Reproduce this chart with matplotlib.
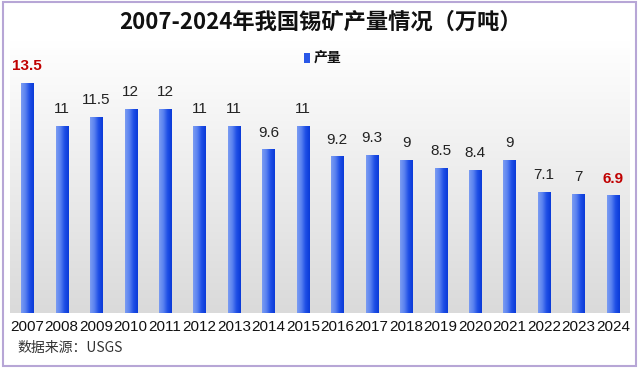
import numpy as np
import matplotlib
matplotlib.use("Agg")
import matplotlib.pyplot as plt
from matplotlib.patches import Rectangle
from matplotlib import font_manager

years = ["2007", "2008", "2009", "2010", "2011", "2012", "2013", "2014", "2015",
         "2016", "2017", "2018", "2019", "2020", "2021", "2022", "2023", "2024"]
output = [13.5, 11, 11.5, 12, 12, 11, 11, 9.6, 11, 9.2, 9.3, 9, 8.5, 8.4, 9, 7.1, 7, 6.9]
labels = ["13.5", "11", "11.5", "12", "12", "11", "11", "9.6", "11", "9.2", "9.3", "9",
          "8.5", "8.4", "9", "7.1", "7", "6.9"]
highlight = {0, 17}

names = {f.name for f in font_manager.fontManager.ttflist}
narrow = "Liberation Sans Narrow" if "Liberation Sans Narrow" in names else "Liberation Sans"
cjk = ["Noto Sans CJK SC", "DejaVu Sans"]

fig = plt.figure(figsize=(6.4, 3.68), dpi=100)
fig.patch.set_facecolor("white")

# outer border
fig.add_artist(Rectangle((0.004, 0.006), 0.99, 0.988, transform=fig.transFigure,
                         fill=False, edgecolor="#b7a6d6", linewidth=1.5))

ax = fig.add_axes([10/640, (368-313)/368, 620/640, (313-40)/368])
n = len(years)
x = np.arange(n)
ax.set_xlim(-0.5, n - 0.5)
ymax = (313 - 40) / 17.04
ax.set_ylim(0, ymax)

# background gradient
grad = np.linspace(0, 1, 256).reshape(-1, 1)
cmap_bg = matplotlib.colors.LinearSegmentedColormap.from_list("bg", ["#dadada", "#ffffff"])
ax.imshow(grad, extent=(-0.5, n - 0.5, 0, ymax), origin="lower", aspect="auto",
          cmap=cmap_bg, zorder=0)

bw = 0.35
bars = ax.bar(x, output, width=bw, color="none", edgecolor="none", zorder=2)
cmap_bar = matplotlib.colors.LinearSegmentedColormap.from_list(
    "bar", ["#7b9cf2", "#5a82f0", "#1f4fe6", "#0a3ad8"])
hgrad = np.linspace(0, 1, 64).reshape(1, -1)
for b in bars:
    x0 = b.get_x()
    im = ax.imshow(hgrad, extent=(x0, x0 + b.get_width(), 0, b.get_height()),
                   aspect="auto", cmap=cmap_bar, zorder=2)
    im.set_clip_path(b)

for i, (v, lab) in enumerate(zip(output, labels)):
    if i in highlight:
        ax.annotate(lab, (x[i], v), xytext=(0, 7), textcoords="offset points",
                    ha="center", va="bottom", fontsize=11, color="#c00000",
                    fontweight="bold", family="Liberation Sans")
    else:
        ax.annotate(lab, (x[i], v), xytext=(0, 7), textcoords="offset points",
                    ha="center", va="bottom", fontsize=11, color="#222222",
                    family="Liberation Sans")

ax.set_xticks(x)
ax.set_xticklabels(years, fontsize=11, family=narrow, color="#111111")
ax.tick_params(axis="x", length=0, pad=5)
ax.set_yticks([])
for s in ax.spines.values():
    s.set_visible(False)

# legend
fig.add_artist(Rectangle((304/640, 1 - 63/368), 6/640, 10/368, transform=fig.transFigure,
                         facecolor="#2a58e8", edgecolor="none"))
fig.text(314/640, 1 - 58/368, "产量", fontsize=10, fontweight="bold",
         family=cjk, va="center", ha="left", color="#111111")

fig.text(0.5, 1 - 22/368, "2007-2024年我国锡矿产量情况（万吨）", fontsize=16,
         fontweight="bold", family=cjk, ha="center", va="center", color="#111111")
fig.text(17/640, 1 - 348/368, "数据来源：USGS", fontsize=10, family=cjk,
         ha="left", va="center", color="#333333")

fig.savefig("out.png", dpi=100)
